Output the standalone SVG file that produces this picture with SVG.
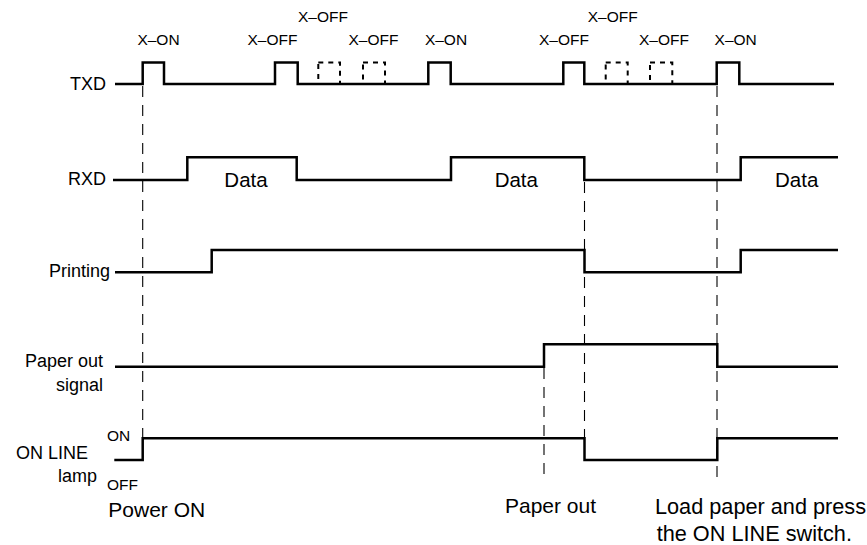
<svg xmlns="http://www.w3.org/2000/svg" width="867" height="545" viewBox="0 0 867 545">
<style>
.sig{fill:none;stroke:#000;stroke-width:2.5;stroke-linejoin:miter;stroke-linecap:butt}
.box{fill:none;stroke:#000;stroke-width:2;stroke-dasharray:5 5}
.guide{fill:none;stroke:#000;stroke-width:1.1;stroke-dasharray:11 8}
text{font-family:"Liberation Sans",Arial,Helvetica,sans-serif;fill:#000}
.lbl{font-size:18px;text-anchor:end}
.x{font-size:15.5px;text-anchor:middle}
.d{font-size:20.5px;text-anchor:middle}
.b{font-size:21px}
.bl{font-size:21.7px}
.s{font-size:15.5px}
</style>
<rect width="867" height="545" fill="#fff"/>
<g id="connectors">
<line class="guide" x1="142.7" y1="86" x2="142.7" y2="438"/>
<line class="guide" x1="544" y1="368" x2="544" y2="477"/>
<line class="guide" x1="584.5" y1="182" x2="584.5" y2="438"/>
<line class="guide" x1="717" y1="86" x2="717" y2="480"/>
</g>
<g id="txd">
<text class="lbl" x="106" y="90">TXD</text>
<path class="sig" d="M115,84 H142.7 V62.5 H164 V84 H275 V62.5 H297.7 V84 H428.3 V62.5 H450.7 V84 H563.3 V62.5 H584.3 V84 H716.7 V62.5 H739.3 V84 H834"/>
<rect class="box" x="318.3" y="62.5" width="21.7" height="21.5"/>
<rect class="box" x="363" y="62.5" width="22" height="21.5"/>
<rect class="box" x="605.7" y="62.5" width="22" height="21.5"/>
<rect class="box" x="650" y="62.5" width="22.3" height="21.5"/>
<text class="x" x="158.5" y="45">X–ON</text>
<text class="x" x="272.5" y="45">X–OFF</text>
<text class="x" x="323" y="22">X–OFF</text>
<text class="x" x="373.5" y="45">X–OFF</text>
<text class="x" x="446" y="45">X–ON</text>
<text class="x" x="564" y="45">X–OFF</text>
<text class="x" x="612.7" y="22">X–OFF</text>
<text class="x" x="664" y="45">X–OFF</text>
<text class="x" x="735.7" y="45">X–ON</text>
</g>
<g id="rxd">
<text class="lbl" x="106" y="185">RXD</text>
<path class="sig" d="M113,180 H187.3 V157.3 H296.7 V180 H451 V157.3 H584.3 V180 H740.7 V157.3 H838"/>
<text class="d" x="246" y="187">Data</text>
<text class="d" x="516.3" y="187">Data</text>
<text class="d" x="796.7" y="187">Data</text>
</g>
<g id="printing">
<text class="lbl" x="110" y="277">Printing</text>
<path class="sig" d="M115,272.3 H211.7 V250 H584.5 V272.3 H740.7 V250 H838"/>
</g>
<g id="paper-out-signal">
<text class="lbl" x="103" y="367">Paper out</text>
<text class="lbl" x="103" y="391">signal</text>
<path class="sig" d="M115,366.7 H544 V344.3 H717.3 V366.7 H838"/>
</g>
<g id="online-lamp">
<text class="lbl" x="88" y="459">ON LINE</text>
<text class="lbl" x="97" y="482">lamp</text>
<text class="s" x="107" y="441">ON</text>
<text class="s" x="107" y="490">OFF</text>
<path class="sig" d="M114.3,460 H142.7 V438.3 H584.5 V460 H717.3 V438.3 H838"/>
</g>
<g id="events">
<text class="b" x="108.3" y="517">Power ON</text>
<text class="b" x="505" y="513">Paper out</text>
<text class="bl" x="655" y="514">Load paper and press</text>
<text class="bl" x="656.7" y="541">the ON LINE switch.</text>
</g>
</svg>
